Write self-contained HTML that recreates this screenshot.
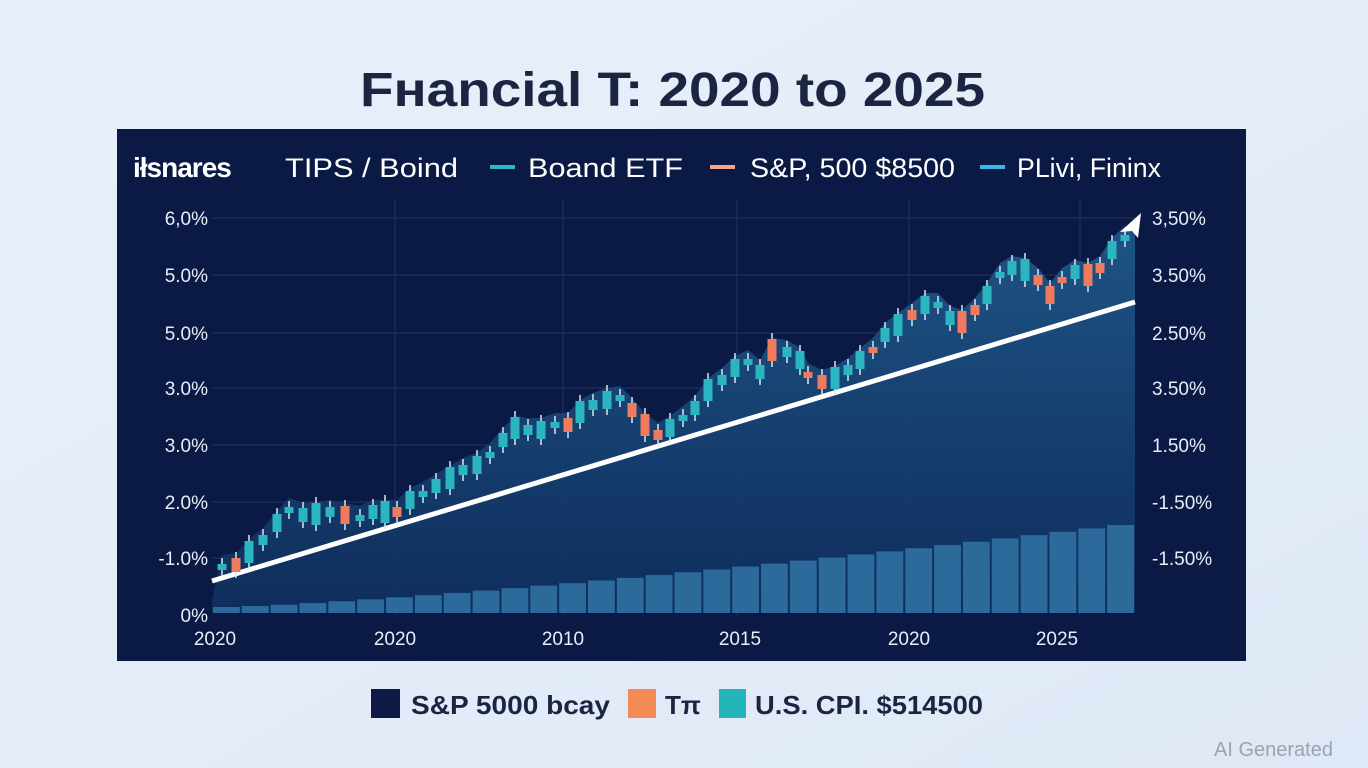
<!DOCTYPE html>
<html><head><meta charset="utf-8"><style>
html,body{margin:0;padding:0;width:1368px;height:768px;overflow:hidden;background:#e6eef9;font-family:"Liberation Sans",sans-serif}
</style></head><body>
<svg id="s" width="1368" height="768" xmlns="http://www.w3.org/2000/svg" font-family="Liberation Sans, sans-serif">
<defs>
<linearGradient id="bg" x1="0" y1="0" x2="1" y2="1"><stop offset="0" stop-color="#e9f0fa"/><stop offset="1" stop-color="#dfe8f6"/></linearGradient>
<linearGradient id="ar" x1="0" y1="0" x2="0" y2="1"><stop offset="0" stop-color="#1f5a8c"/><stop offset="1" stop-color="#0f2f5e"/></linearGradient>
</defs>
<rect width="1368" height="768" fill="url(#bg)"/>
<text x="360" y="106" textLength="625" lengthAdjust="spacingAndGlyphs" font-size="48" font-weight="bold" fill="#1b2542">Fнancial T: 2020 to 2025</text>
<rect x="117" y="129" width="1129" height="532" fill="#0b1a45"/>
<g id="grid" stroke="#22345f" stroke-width="1"></g>
<polygon id="area" fill="url(#ar)" opacity="0.9"/>
<g id="bars" fill="#2c6a9c"></g>
<line x1="212" y1="581" x2="1135" y2="302" stroke="#ffffff" stroke-width="5"/>
<g id="candles"></g>
<polygon points="1120,232 1141,213 1138,238 1132,231" fill="#fff"/>
<g font-size="27" fill="#fff">
<text x="133" y="177" font-weight="bold" font-size="28" letter-spacing="-1">iłsnares</text>
<text x="285" y="177" textLength="173" lengthAdjust="spacingAndGlyphs">TIPS / Boind</text>
<rect x="490" y="165" width="25" height="4" fill="#2bb8c4"/>
<text x="528" y="177" textLength="155" lengthAdjust="spacingAndGlyphs">Boand ETF</text>
<rect x="710" y="165" width="25" height="4" fill="#f2a487"/>
<text x="750" y="177" textLength="205" lengthAdjust="spacingAndGlyphs">S&amp;P, 500 $8500</text>
<rect x="980" y="165" width="25" height="4" fill="#3fb6e8"/>
<text x="1017" y="177" textLength="144" lengthAdjust="spacingAndGlyphs">PLivi, Fininx</text>
</g>
<g font-size="19" fill="#e8eef8" id="labs"></g>
<rect x="371" y="689" width="29" height="29" fill="#0d1b44"/>
<text x="411" y="714" font-size="26" font-weight="bold" fill="#1b2542" textLength="199" lengthAdjust="spacingAndGlyphs">S&amp;P 5000 bcay</text>
<rect x="628" y="689" width="28" height="29" fill="#f58a55"/>
<text x="665" y="714" font-size="26" font-weight="bold" fill="#1b2542">Tπ</text>
<rect x="719" y="689" width="27" height="29" fill="#25b5b8"/>
<text x="755" y="714" font-size="26" font-weight="bold" fill="#1b2542" textLength="228" lengthAdjust="spacingAndGlyphs">U.S. CPI. $514500</text>
<text x="1214" y="756" font-size="20" fill="#9aa3b0">AI Generated</text>
</svg>
<script>
var NS="http://www.w3.org/2000/svg",s=document.getElementById('s');
function el(p,t,a,txt){var e=document.createElementNS(NS,t);for(var k in a)e.setAttribute(k,a[k]);if(txt)e.textContent=txt;document.getElementById(p).appendChild(e);return e;}
[218,275,333,388,445,502,558].forEach(function(y){el('grid','line',{x1:212,x2:1135,y1:y,y2:y});});
[395,563,737,909,1080].forEach(function(x){el('grid','line',{x1:x,x2:x,y1:200,y2:615});});
var L=[["6,0%",218],["5.0%",275],["5.0%",333],["3.0%",388],["3.0%",445],["2.0%",502],["-1.0%",558],["0%",615]];
L.forEach(function(a){el('labs','text',{x:208,y:a[1]+7,'text-anchor':'end'},a[0]);});
var R=[["3,50%",218],["3.50%",275],["2.50%",333],["3.50%",388],["1.50%",445],["-1.50%",502],["-1.50%",558]];
R.forEach(function(a){el('labs','text',{x:1152,y:a[1]+7},a[0]);});
[["2020",215],["2020",395],["2010",563],["2015",740],["2020",909],["2025",1057]].forEach(function(a){el('labs','text',{x:a[1],y:645,'text-anchor':'middle'},a[0]);});
var n=32,w=(1135-212)/n;
for(var i=0;i<n;i++){var h=6+Math.pow(i/(n-1),1.3)*82;el('bars','rect',{x:212+i*w+1,y:613-h,width:w-2,height:h});}
var P=[[222,567],[236,565],[249,552],[263,540],[277,523],[289,510],[303,515],[316,514],[330,512],[345,515],[360,518],[373,512],[385,512],[397,512],[410,500],[423,494],[436,486],[450,478],[463,470],[477,465],[490,455],[503,440],[515,428],[528,430],[541,430],[555,425],[568,425],[580,412],[593,405],[607,400],[620,398],[632,410],[645,425],[658,435],[670,428],[683,418],[695,408],[708,390],[722,380],[735,368],[748,362],[760,372],[772,350],[787,352],[800,360],[808,375],[822,382],[835,378],[848,370],[860,360],[873,350],[885,335],[898,325],[912,315],[925,305],[938,305],[950,318],[962,322],[975,310],[987,295],[1000,275],[1012,268],[1025,270],[1038,280],[1050,295],[1062,280],[1075,272],[1088,275],[1100,268],[1112,250],[1125,238]];
var red={1:1,9:1,13:1,26:1,31:1,32:1,33:1,42:1,45:1,46:1,50:1,53:1,57:1,58:1,63:1,64:1,65:1,67:1,68:1};
var pts="212,600 ";P.forEach(function(p){pts+=p[0]+","+(p[1]-12)+" ";});pts+="1135,230 1135,613 212,613";
document.getElementById('area').setAttribute('points',pts);
P.forEach(function(p,i){var c=red[i]?"#f07a5c":"#2bb5c0";var h=6+((i*7)%5)*4;
el('candles','line',{x1:p[0],x2:p[0],y1:p[1]-h/2-6,y2:p[1]+h/2+6,stroke:"#d8e6f0","stroke-width":1.5});
el('candles','rect',{x:p[0]-4.5,y:p[1]-h/2,width:9,height:h,fill:c});});
</script>
</body></html>
